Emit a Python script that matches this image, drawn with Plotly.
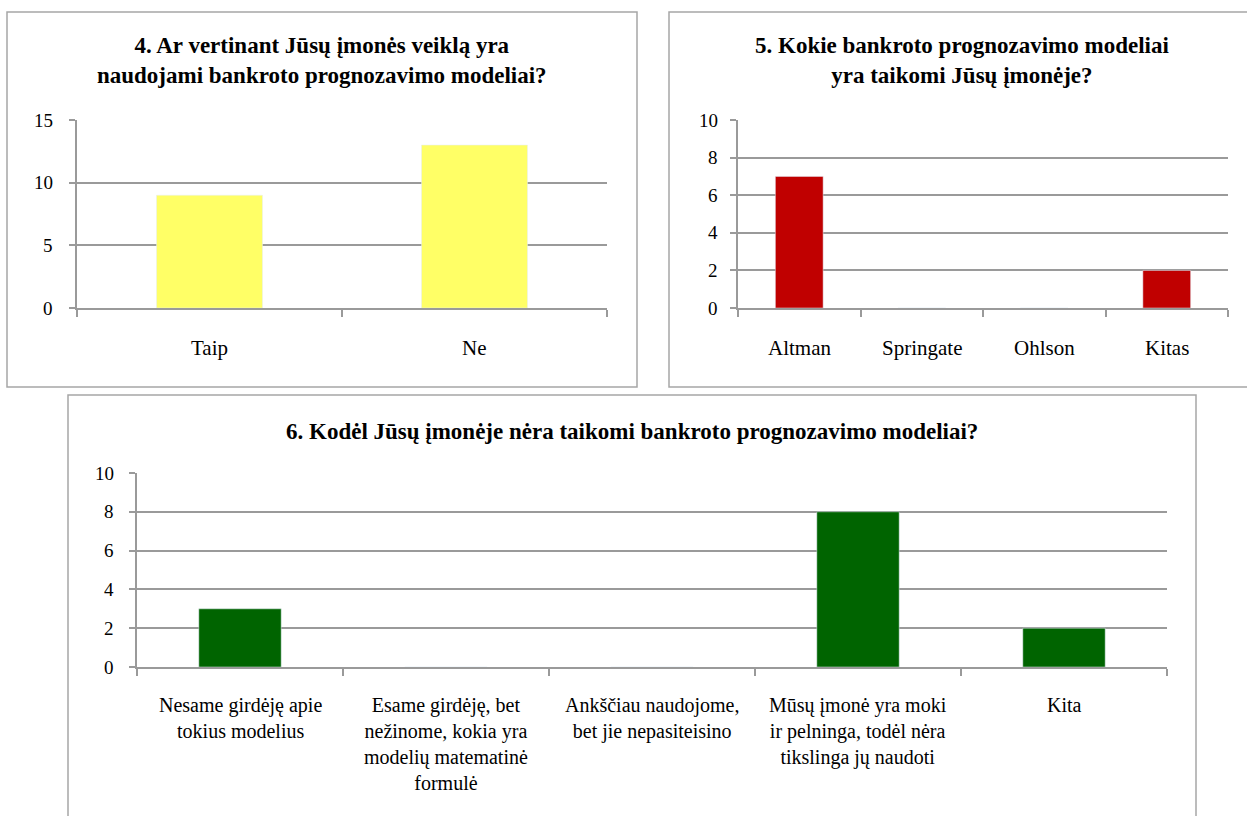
import plotly.graph_objects as go

W, H = 1247, 816

# ---- data ----
q4_categories = ["Taip", "Ne"]
q4_values = [9, 13]
q4_yticks = [0, 5, 10, 15]

q5_categories = ["Altman", "Springate", "Ohlson", "Kitas"]
q5_values = [7, 0, 0, 2]
q5_yticks = [0, 2, 4, 6, 8, 10]

q6_categories = [
    "Nesame girdėję apie<br>tokius modelius",
    "Esame girdėję, bet<br>nežinome, kokia yra<br>modelių matematinė<br>formulė",
    "Ankščiau naudojome,<br>bet jie nepasiteisino",
    "Mūsų įmonė yra moki<br>ir pelninga, todėl nėra<br>tikslinga jų naudoti",
    "Kita",
]
q6_values = [3, 0, 0, 8, 2]
q6_yticks = [0, 2, 4, 6, 8, 10]

q4_title = "4. Ar vertinant Jūsų įmonės veiklą yra<br>naudojami bankroto prognozavimo modeliai?"
q5_title = "5. Kokie bankroto prognozavimo modeliai<br>yra taikomi Jūsų įmonėje?"
q6_title = "6. Kodėl Jūsų įmonėje nėra taikomi bankroto prognozavimo modeliai?"

FONT = "Liberation Serif"
GRID = "#9a9a9a"
BORDER = "#a6a6a6"


def px(x):
    return x / W


def py(y):
    return 1 - y / H


def serif(text):
    # wrap every line in a span that carries the serif family explicitly
    return "<br>".join(f"<span style='font-family:{FONT}'>{ln}</span>" for ln in text.split("<br>"))


fig = go.Figure()
fig.add_trace(go.Bar(x=q4_categories, y=q4_values, marker_color="#FFFF66",
                     xaxis="x", yaxis="y", width=0.4))
fig.add_trace(go.Bar(x=q5_categories, y=q5_values, marker_color="#C00000",
                     xaxis="x2", yaxis="y2", width=0.39))
fig.add_trace(go.Bar(x=q6_categories, y=q6_values, marker_color="#006400",
                     xaxis="x3", yaxis="y3", width=0.4))

xcommon = dict(showline=True, linecolor=GRID, linewidth=1.5, ticks="outside",
               tickson="boundaries", ticklen=7, tickcolor=GRID, tickwidth=1.5,
               showgrid=False, showticklabels=False, automargin=False)
ycommon = dict(showline=True, linecolor=GRID, linewidth=1.5, ticks="outside",
               ticklen=6, tickcolor=GRID, tickwidth=1.5, showgrid=True,
               gridcolor=GRID, gridwidth=1.5, zeroline=False,
               showticklabels=False, automargin=False)

fig.update_layout(
    width=W, height=H, margin=dict(l=0, r=0, t=0, b=0),
    paper_bgcolor="white", plot_bgcolor="white", showlegend=False,
    font=dict(family=FONT, color="black"),
    xaxis=dict(domain=[px(77), px(607)], anchor="y", **xcommon),
    yaxis=dict(domain=[py(308), py(120)], anchor="x", range=[0, 15], tickvals=q4_yticks, **ycommon),
    xaxis2=dict(domain=[px(738), px(1228)], anchor="y2", **xcommon),
    yaxis2=dict(domain=[py(308), py(120)], anchor="x2", range=[0, 10], tickvals=q5_yticks, **ycommon),
    xaxis3=dict(domain=[px(137), px(1167)], anchor="y3", **xcommon),
    yaxis3=dict(domain=[py(667), py(473)], anchor="x3", range=[0, 10], tickvals=q6_yticks, **ycommon),
)

for (x0, x1, y0, y1) in [(7, 637, 387, 12), (669, 1260, 387, 12), (68, 1196, 830, 395)]:
    fig.add_shape(type="rect", xref="paper", yref="paper", x0=px(x0), x1=px(x1),
                  y0=py(y0), y1=py(y1), line=dict(color=BORDER, width=1.5), layer="below")

# titles
tfont = dict(family=FONT, size=23, color="black")
fig.add_annotation(text=f"<b>{q4_title}</b>", x=px(322), y=py(61), xref="paper", yref="paper",
                   showarrow=False, font=tfont, xanchor="center", yanchor="middle")
fig.add_annotation(text=f"<b>{q5_title}</b>", x=px(962), y=py(61), xref="paper", yref="paper",
                   showarrow=False, font=tfont, xanchor="center", yanchor="middle")
fig.add_annotation(text=f"<b>{q6_title}</b>", x=px(632), y=py(431), xref="paper", yref="paper",
                   showarrow=False, font=tfont, xanchor="center", yanchor="middle")

# category labels (placed on the category axes)
for cats, xr, ytop, size in [(q4_categories, "x", 334, 21), (q5_categories, "x2", 334, 21),
                             (q6_categories, "x3", 692, 20)]:
    for c in cats:
        fig.add_annotation(text=serif(c), x=c, xref=xr, y=py(ytop), yref="paper", showarrow=False,
                           xanchor="center", yanchor="top",
                           font=dict(family=FONT, size=size, color="black"))

# value-axis labels (placed on the value axes)
for ticks, yr, xright in [(q4_yticks, "y", 55), (q5_yticks, "y2", 720), (q6_yticks, "y3", 116)]:
    for t in ticks:
        fig.add_annotation(text=serif(str(t)), x=px(xright), xref="paper", y=t, yref=yr, showarrow=False,
                           xanchor="right", yanchor="middle",
                           font=dict(family=FONT, size=19, color="black"))

fig.write_html("out.html")
